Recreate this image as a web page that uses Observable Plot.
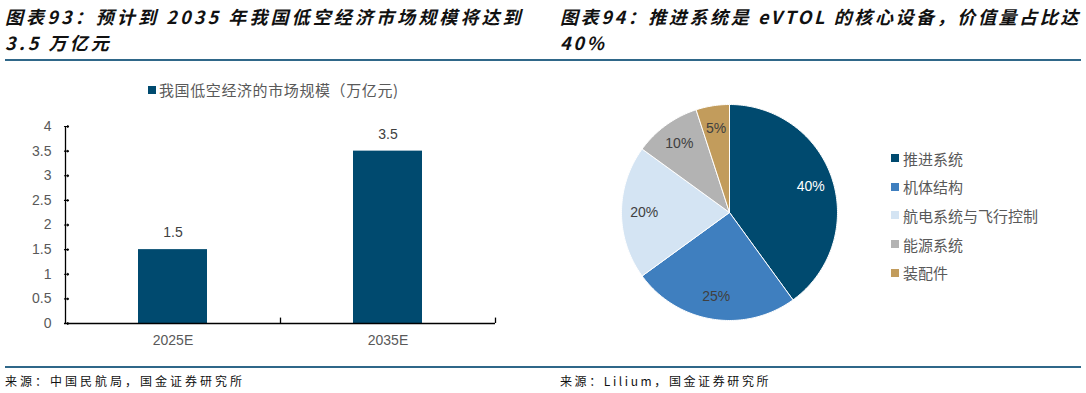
<!DOCTYPE html>
<html><head><meta charset="utf-8">
<script src="https://cdn.jsdelivr.net/npm/d3@7"></script>
<script src="https://cdn.jsdelivr.net/npm/@observablehq/plot@0.6"></script>
<style>
body{margin:0;background:#fff;font-family:"Noto Sans CJK SC","Noto Sans",sans-serif;}
#root{position:relative;width:1086px;height:393px;overflow:hidden;background:#fff;}
.title{position:absolute;top:3px;font-size:18px;font-weight:bold;font-style:italic;line-height:26px;color:#111;white-space:nowrap;}
.rule{position:absolute;left:5px;width:1076px;height:2px;background:#2f6789;}
.src{position:absolute;top:372px;font-size:12px;color:#111;letter-spacing:2.6px;white-space:nowrap;}
.abs{position:absolute;}
.leg{position:absolute;display:flex;align-items:center;font-size:15px;color:#595959;white-space:nowrap;}
.leg span.sw{display:inline-block;width:8px;height:8px;margin-right:4px;}
</style></head>
<body><div id="root">
<div class="title" style="left:5px;letter-spacing:3.1px">图表93：预计到 2035 年我国低空经济市场规模将达到<br>3.5 万亿元</div>
<div class="title" style="left:560px;letter-spacing:2.6px">图表94：推进系统是 eVTOL 的核心设备，价值量占比达<br>40%</div>
<div class="rule" style="top:59px"></div>
<div class="rule" style="top:366px"></div>
<div class="src" style="left:5px;letter-spacing:3px">来源：中国民航局，国金证券研究所</div>
<div class="src" style="left:560px">来源：Lilium，国金证券研究所</div>
<div id="barLegend" class="leg" style="left:148px;top:79px"></div>
<div id="bar" class="abs" style="left:0;top:70px"></div>
<div id="pie" class="abs" style="left:621px;top:104px"></div>
<div id="pieLegend" class="abs" style="left:891px;top:144px"></div>
</div>
<script>
// ---- data ----
const barCategories = ["2025E", "2035E"];
const barValues = [1.5, 3.5];
const barSeriesName = "我国低空经济的市场规模（万亿元)";
const yTicks = [0, 0.5, 1, 1.5, 2, 2.5, 3, 3.5, 4];

const pieNames = ["推进系统", "机体结构", "航电系统与飞行控制", "能源系统", "装配件"];
const pieValues = [40, 25, 20, 10, 5];
const pieColors = ["#004a6f", "#3f7fbf", "#d4e4f3", "#b3b3b3", "#c29c5c"];
const pieLabelColors = ["#ffffff", "#404040", "#404040", "#404040", "#404040"];

const barColor = "#004a6f";
const axisText = "#595959";

// ---- bar chart ----
const barData = barCategories.map((c, i) => ({cat: c, v: barValues[i]}));
const bar = Plot.plot({
  width: 520, height: 290,
  marginLeft: 64, marginRight: 25, marginTop: 56, marginBottom: 37,
  style: {fontFamily: "Liberation Sans, Arial, sans-serif", fontSize: "14px", color: axisText, background: "transparent"},
  x: {domain: barCategories, paddingInner: 0.68, paddingOuter: 0.34, label: null},
  y: {domain: [0, 4], label: null},
  marks: [
    Plot.barY(barData, {x: "cat", y: "v", fill: barColor}),
    Plot.axisY({ticks: yTicks, tickSize: 0, tickPadding: 13, tickFormat: d => String(d), fill: axisText, fontSize: 14, label: null}),
    Plot.vector(yTicks, {y: d => d, frameAnchor: "left", rotate: 90, length: 4, anchor: "start", stroke: "#000", strokeWidth: 1.2}),
    Plot.axisX({tickSize: 0, tickPadding: 12, fill: axisText, fontSize: 14, label: null}),
    Plot.ruleY([0], {stroke: "#000", strokeWidth: 1.3}),
    Plot.ruleX([0], {x: () => barCategories[0], dx: -107.5, y1: 0, y2: 4, stroke: "#000", strokeWidth: 1.3}),
    Plot.ruleX(barCategories, {x: d => d, dx: 107.5, y1: 0, y2: 0.11, stroke: "#000", strokeWidth: 1.3}),
    Plot.text(barData, {x: "cat", y: "v", text: d => String(d.v), dy: -17, fill: "#404040", fontSize: 14})
  ]
});
document.getElementById("bar").append(bar);

const bl = document.getElementById("barLegend");
bl.innerHTML = `<span class="sw" style="background:${barColor};margin-right:3px"></span><span style="letter-spacing:0.6px">${barSeriesName}</span>`;

// ---- pie chart ----
const total = d3.sum(pieValues);
const slices = [];
let acc = 0;
pieValues.forEach((v, i) => {
  const a0 = acc / total * 2 * Math.PI;
  acc += v;
  const a1 = acc / total * 2 * Math.PI;
  slices.push({name: pieNames[i], v, a0, a1});
});
const piePts = [];
slices.forEach(s => {
  piePts.push({name: s.name, x: 0, y: 0});
  const n = Math.max(2, Math.ceil((s.a1 - s.a0) / (Math.PI / 180)));
  for (let k = 0; k <= n; k++) {
    const a = s.a0 + (s.a1 - s.a0) * k / n;
    piePts.push({name: s.name, x: Math.sin(a), y: Math.cos(a)});
  }
  piePts.push({name: s.name, x: 0, y: 0});
});
const labelFrac = 0.79;
const pieLabels = slices.map((s, i) => {
  const m = (s.a0 + s.a1) / 2;
  return {x: labelFrac * Math.sin(m), y: labelFrac * Math.cos(m), t: s.v + "%", c: pieLabelColors[i]};
});
const pie = Plot.plot({
  width: 216, height: 216, margin: 0,
  style: {background: "transparent", overflow: "visible"},
  x: {domain: [-1, 1], axis: null},
  y: {domain: [-1, 1], axis: null},
  color: {domain: pieNames, range: pieColors},
  marks: [
    Plot.line(piePts, {x: "x", y: "y", z: "name", fill: "name", stroke: "#fff", strokeWidth: 1, curve: "linear"}),
    Plot.text(pieLabels, {x: "x", y: "y", text: "t", fill: d => d.c, fontSize: 14, fontFamily: "Liberation Sans, Arial, sans-serif"})
  ]
});
document.getElementById("pie").append(pie);

const pl = document.getElementById("pieLegend");
pieNames.forEach((n, i) => {
  const d = document.createElement("div");
  d.className = "leg";
  d.style.position = "relative";
  d.style.height = "28.6px";
  d.innerHTML = `<span class="sw" style="background:${pieColors[i]}"></span><span>${n}</span>`;
  pl.append(d);
});
</script>
</body></html>
